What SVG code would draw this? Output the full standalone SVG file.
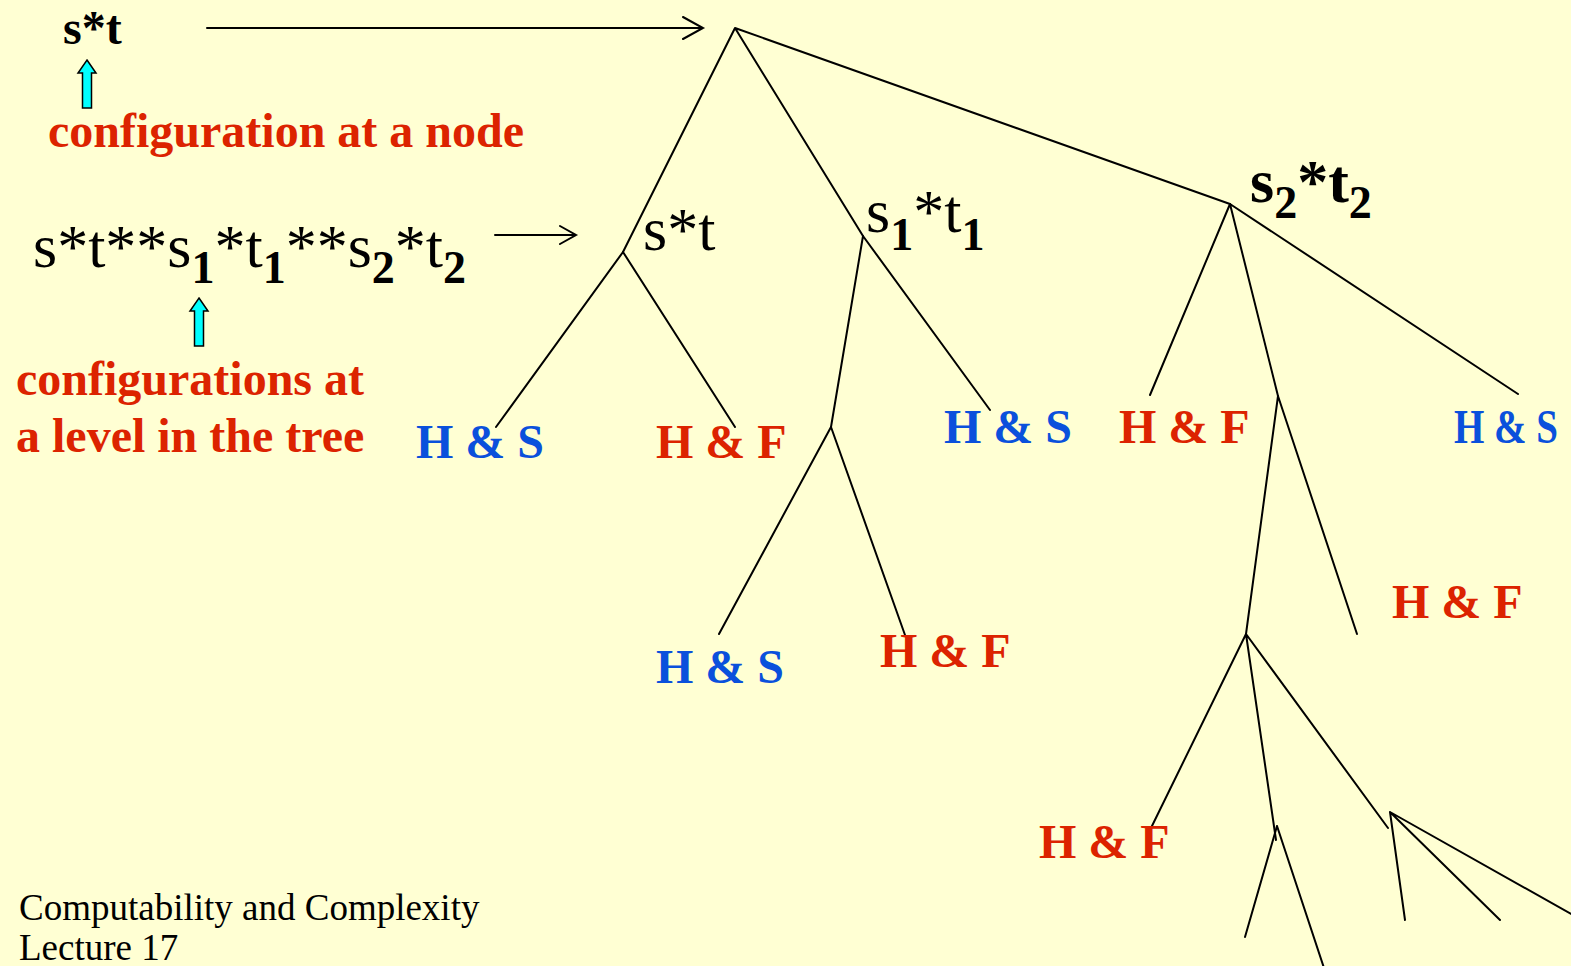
<svg xmlns="http://www.w3.org/2000/svg" width="1571" height="966" viewBox="0 0 1571 966">
<style>
.bg{fill:#FFFFD3}
.e{stroke:#000;stroke-width:2;fill:none;stroke-linecap:round}
.cy{fill:#00FFFF;stroke:#000;stroke-width:1.5}
text{font-family:"Liberation Serif","Times New Roman",serif}
.b{font-weight:bold}
.red{fill:#DC2300;font-weight:bold;font-size:48px;font-family:"Liberation Serif","Times New Roman",serif}
.blue{fill:#0A50DC;font-weight:bold;font-size:48px;font-family:"Liberation Serif","Times New Roman",serif}
.lbl{fill:#000;font-size:62px;font-family:"Liberation Serif","Times New Roman",serif}
.sub{font-size:46px;font-weight:bold}
.foot{fill:#000;font-size:37px;font-family:"Liberation Serif","Times New Roman",serif}
</style>
<rect class="bg" x="0" y="0" width="1571" height="966"/>

<g id="connectors">
  <path class="e" d="M207,28 H703 M683,17 L703,28 L683,39"/>
  <path class="e" d="M495,235 H576 M560,226 L576,235 L560,244"/>
  <path class="e" d="M735,28 L623,252 M735,28 L863,236 M735,28 L1230,204"/>
  <path class="e" d="M623,252 L496,427 M623,252 L735,427"/>
  <path class="e" d="M863,236 L831,427 M863,236 L990,410"/>
  <path class="e" d="M831,427 L719,634 M831,427 L905,635"/>
  <path class="e" d="M1230,204 L1150,395 M1230,204 L1278,396 M1230,204 L1518,394"/>
  <path class="e" d="M1278,396 L1246,634 M1278,396 L1357,634"/>
  <path class="e" d="M1246,634 L1151,828 M1246,634 L1276,840 M1246,634 L1388,828"/>
  <path class="e" d="M1277,826 L1245,937 M1277,826 L1324,968"/>
  <path class="e" d="M1390,812 L1405,920 M1390,812 L1500,920 M1390,812 L1573,915"/>
</g>

<g id="legend-node">
  <text x="63" y="44" class="b" font-size="48">s*t</text>
  <path id="cyan-arrow-1" class="cy" d="M87,60 L96,73 L91.5,73 L91.5,108 L82.5,108 L82.5,73 L78,73 Z"/>
  <text x="48" y="147" class="red">configuration at a node</text>
</g>

<g id="legend-level">
  <text x="33" y="267" class="lbl">s*t**s<tspan class="sub" dy="16">1</tspan><tspan dy="-16">*t</tspan><tspan class="sub" dy="16">1</tspan><tspan dy="-16">**s</tspan><tspan class="sub" dy="16">2</tspan><tspan dy="-16">*t</tspan><tspan class="sub" dy="16">2</tspan></text>
  <path id="cyan-arrow-2" class="cy" d="M199,298 L208,311 L203.5,311 L203.5,346 L194.5,346 L194.5,311 L190,311 Z"/>
  <text x="16" y="395" class="red">configurations at</text>
  <text x="16" y="452" class="red">a level in the tree</text>
</g>

<g id="node-st"><text x="643" y="250" class="lbl">s*t</text></g>
<g id="node-s1t1"><text x="866" y="232" class="lbl">s<tspan class="sub" font-size="44" dy="18">1</tspan><tspan dy="-18">*t</tspan><tspan class="sub" font-size="44" dy="18">1</tspan></text></g>
<g id="node-s2t2"><text x="1250" y="202" class="lbl b" font-size="60">s<tspan class="sub" font-size="40" dy="16">2</tspan><tspan dy="-16">*t</tspan><tspan class="sub" font-size="40" dy="16">2</tspan></text></g>

<g id="leaf-1"><text x="416" y="458" class="blue">H &amp; S</text></g>
<g id="leaf-2"><text x="656" y="458" class="red">H &amp; F</text></g>
<g id="leaf-3"><text x="944" y="443" class="blue">H &amp; S</text></g>
<g id="leaf-4"><text x="1119" y="443" class="red">H &amp; F</text></g>
<g id="leaf-5"><text x="1454" y="443" class="blue" font-size="39" textLength="104" lengthAdjust="spacingAndGlyphs">H &amp; S</text></g>
<g id="leaf-6"><text x="656" y="683" class="blue">H &amp; S</text></g>
<g id="leaf-7"><text x="880" y="667" class="red">H &amp; F</text></g>
<g id="leaf-8"><text x="1392" y="618" class="red">H &amp; F</text></g>
<g id="leaf-9"><text x="1039" y="858" class="red">H &amp; F</text></g>

<g id="footer">
  <text x="19" y="920" class="foot">Computability and Complexity</text>
  <text x="19" y="960" class="foot">Lecture 17</text>
</g>
</svg>
